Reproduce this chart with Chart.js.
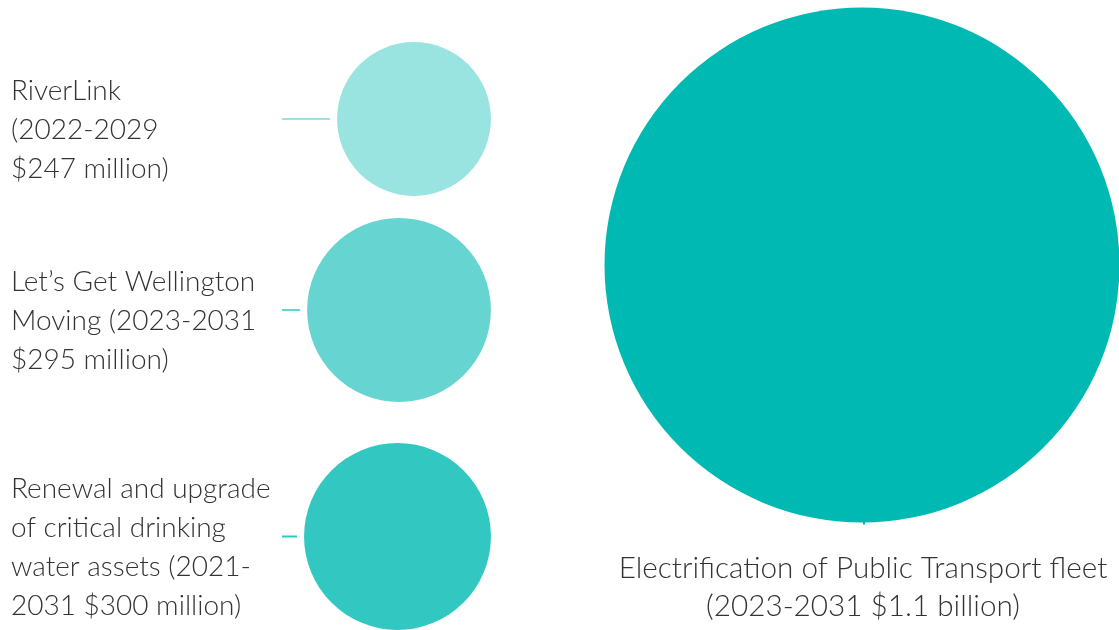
<!DOCTYPE html>
<html>
<head>
<meta charset="utf-8">
<script src="https://cdn.jsdelivr.net/npm/chart.js@4/dist/chart.umd.min.js"></script>
<style>
  html, body { margin: 0; padding: 0; background: #ffffff; }
  #wrap { width: 1119px; height: 630px; position: relative; }
</style>
</head>
<body>
<div id="wrap"><canvas id="c" width="1119" height="630"></canvas></div>
<script>
// ---- data ----
const projects = [
  "RiverLink",
  "Let\u2019s Get Wellington Moving",
  "Renewal and upgrade of critical drinking water assets",
  "Electrification of Public Transport fleet"
];
const periods = ["2022-2029", "2023-2031", "2021-2031", "2023-2031"];
const costsMillion = [247, 295, 300, 1100];
const costLabels = ["$247 million", "$295 million", "$300 million", "$1.1 billion"];
// label text as wrapped in the original
const labelLines = [
  ["RiverLink", "(2022-2029", "$247 million)"],
  ["Let\u2019s Get Wellington", "Moving (2023-2031", "$295 million)"],
  ["Renewal and upgrade", "of critical drinking", "water assets (2021-", "2031 $300 million)"],
  ["Electrification of Public Transport fleet", "(2023-2031 $1.1 billion)"]
];

// ---- layout (chart units on hidden 0..1119 / 0..630 axes) ----
const bubbleX = [414, 399, 397.5, 862];
const bubbleY = [119, 310, 536.5, 265];
const labelSide = ["left", "left", "left", "below"];
const alphas = [0.4, 0.6, 0.8, 1.0];
const maxRadius = 257.5;
const radiusPerMillion = 0.3115;

const radii = costsMillion.map(v => Math.min(v * radiusPerMillion, maxRadius));
const colors = alphas.map(a => {
  const r = Math.round(0 * a + 255 * (1 - a));
  const g = Math.round(185 * a + 255 * (1 - a));
  const b = Math.round(179 * a + 255 * (1 - a));
  return `rgb(${r},${g},${b})`;
});

const FONT_LEFT = '300 28px "Lato", "Open Sans", sans-serif';
const FONT_BELOW = '300 29.7px "Lato", "Open Sans", sans-serif';
const TEXT_COLOR = '#333333';

const labelPlugin = {
  id: 'bubbleLabels',
  afterDatasetsDraw(chart) {
    const ctx = chart.ctx;
    const meta = chart.getDatasetMeta(0);
    ctx.save();
    ctx.fillStyle = TEXT_COLOR;
    ctx.textBaseline = 'middle';
    meta.data.forEach((el, i) => {
      const cx = el.x, cy = el.y;
      const r = el.options.radius;
      const lines = labelLines[i];
      const lh = 39.3;
      if (labelSide[i] === 'left') {
        ctx.font = FONT_LEFT;
        ctx.strokeStyle = colors[i];
        ctx.lineWidth = 2;
        ctx.beginPath();
        ctx.moveTo(282, cy);
        ctx.lineTo(cx - r - 7, cy);
        ctx.stroke();
        ctx.textAlign = 'left';
        const blockCenter = cy + 11;
        const start = blockCenter - lh * (lines.length - 1) / 2;
        lines.forEach((t, k) => ctx.fillText(t, 11, start + k * lh));
      } else {
        ctx.font = FONT_BELOW;
        ctx.strokeStyle = colors[i];
        ctx.lineWidth = 2;
        ctx.beginPath();
        ctx.moveTo(cx + 2, cy + r - 2);
        ctx.lineTo(cx + 2, cy + r + 2);
        ctx.stroke();
        ctx.textAlign = 'center';
        const start = cy + r + 46;
        lines.forEach((t, k) => ctx.fillText(t, cx + 1, start + k * 38));
      }
    });
    ctx.restore();
  }
};

new Chart(document.getElementById('c'), {
  type: 'bubble',
  data: {
    datasets: [{
      label: 'Projects',
      data: projects.map((p, i) => ({ x: bubbleX[i], y: bubbleY[i], r: radii[i], name: p })),
      backgroundColor: colors,
      borderWidth: 0,
      hoverRadius: 0,
      clip: false
    }]
  },
  options: {
    responsive: false,
    animation: false,
    maintainAspectRatio: false,
    layout: { padding: 0, autoPadding: false },
    plugins: { legend: { display: false }, tooltip: { enabled: false } },
    events: [],
    scales: {
      x: { type: 'linear', min: 0, max: 1119, display: false },
      y: { type: 'linear', min: 0, max: 630, reverse: true, display: false }
    }
  },
  plugins: [labelPlugin]
});
</script>
</body>
</html>
